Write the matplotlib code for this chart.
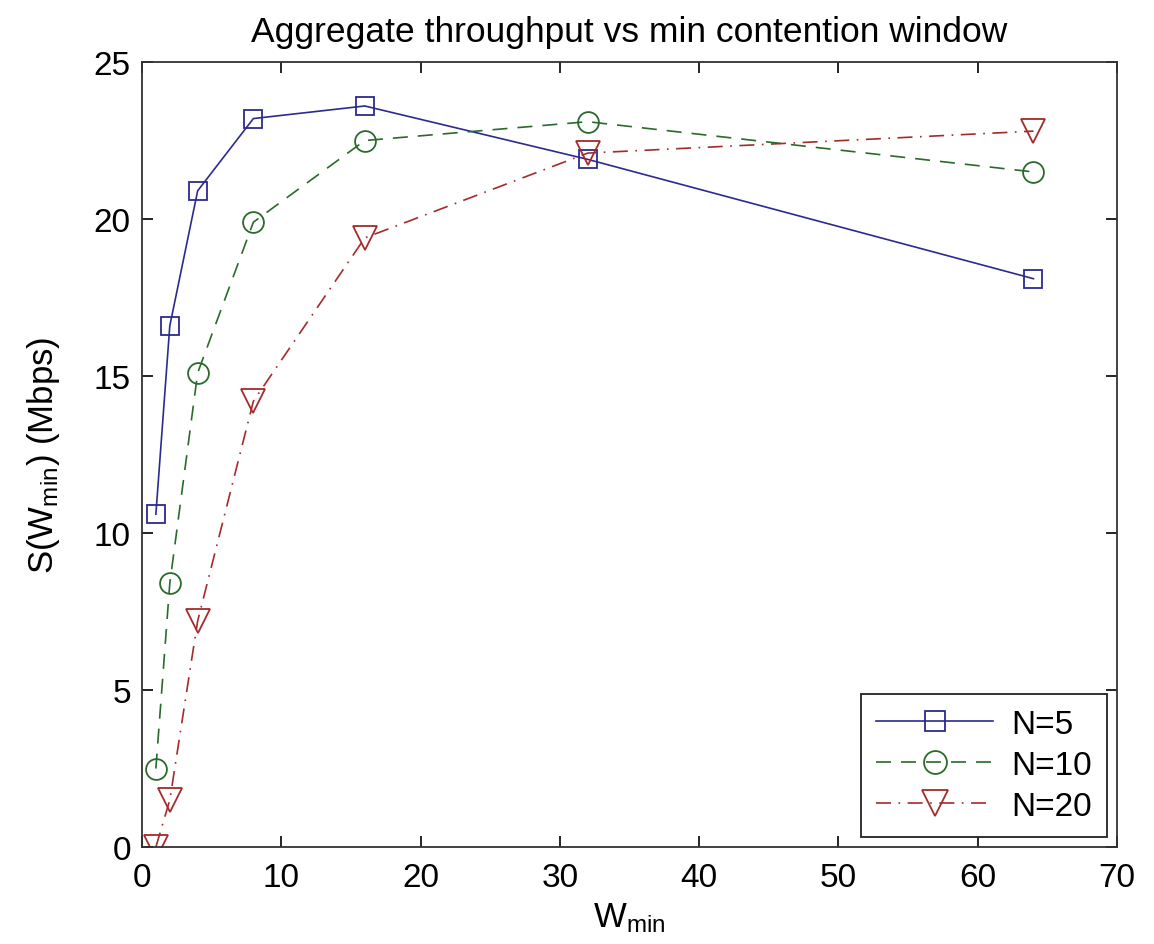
import matplotlib
matplotlib.use("Agg")
import matplotlib.pyplot as plt

plt.rcParams['font.family'] = ['Liberation Sans', 'DejaVu Sans']
plt.rcParams['mathtext.fontset'] = 'custom'
plt.rcParams['mathtext.rm'] = 'Liberation Sans'
plt.rcParams['mathtext.it'] = 'Liberation Sans'

w_min = [1, 2, 4, 8, 16, 32, 64]
s_n5 = [10.6, 16.6, 20.9, 23.2, 23.6, 21.9, 18.1]
s_n10 = [2.5, 8.4, 15.1, 19.9, 22.5, 23.1, 21.5]
s_n20 = [0.0, 1.5, 7.2, 14.2, 19.4, 22.1, 22.8]
labels = ['N=5', 'N=10', 'N=20']

fig = plt.figure(figsize=(11.54, 9.45), dpi=100)
ax = fig.add_axes([0.123, 0.1026, 0.845, 0.8307])

ax.plot(w_min, s_n5, color='#2b2b8f', linestyle='-', linewidth=1.2,
        marker='s', markersize=13, markerfacecolor='none', markeredgewidth=1.3, label=labels[0])
ax.plot(w_min, s_n10, color='#2a6a2a', linestyle=(0, (9, 6)), linewidth=1.2,
        marker='o', markersize=15, markerfacecolor='none', markeredgewidth=1.3, label=labels[1])
ax.plot(w_min, s_n20, color='#a52a2a', linestyle=(0, (9, 4.5, 1, 4.5)), linewidth=1.2,
        marker='v', markersize=17, markerfacecolor='none', markeredgewidth=1.3, label=labels[2])

ax.set_xlim(0, 70)
ax.set_ylim(0, 25)
ax.set_xticks(range(0, 71, 10))
ax.set_yticks(range(0, 26, 5))
ax.tick_params(direction='in', length=8, width=1.2, labelsize=24, top=True, right=True)
ax.tick_params(axis='x', pad=11)
ax.tick_params(axis='y', pad=8)
for sp in ax.spines.values():
    sp.set_linewidth(1.3)
    sp.set_color('#333333')

ax.set_title('Aggregate throughput vs min contention window', fontsize=25.5, pad=15)
ax.set_xlabel(r'W$_{\mathrm{min}}$', fontsize=25, labelpad=5)
ax.set_ylabel(r'S(W$_{\mathrm{min}}$) (Mbps)', fontsize=25, labelpad=23)

leg = ax.legend(loc='lower right', fontsize=24, fancybox=False, edgecolor='#222222',
                handlelength=3.5, borderpad=0.45, labelspacing=0.3, framealpha=1,
                borderaxespad=0.3, handletextpad=0.55, markerscale=1.1)
leg.get_frame().set_linewidth(1.3)

fig.savefig('out.png', dpi=100)
